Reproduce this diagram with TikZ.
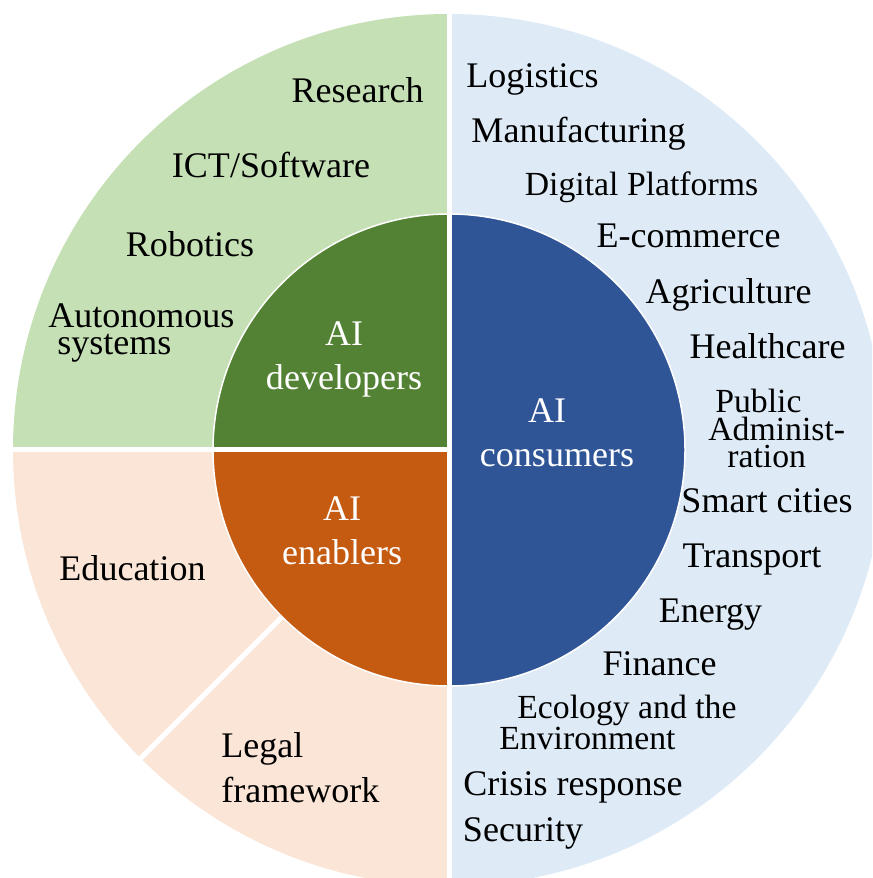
\documentclass[tikz,border=0pt]{standalone}
\usepackage{fontspec}
\setmainfont{Liberation Serif}
\definecolor{lgreen}{HTML}{C5E0B4}
\definecolor{lblue}{HTML}{DEEBF7}
\definecolor{lorange}{HTML}{FBE5D6}
\definecolor{dgreen}{HTML}{548235}
\definecolor{dorange}{HTML}{C55A11}
\definecolor{dblue}{HTML}{2F5597}
\begin{document}
\begin{tikzpicture}[x=0.02cm,y=0.02cm,
  lbl/.style={anchor=base,inner sep=0pt,font=\fontsize{20.5}{24}\selectfont},
  twoline/.style={font=\fontsize{20.5}{25.5}\selectfont},
  tightfont/.style={font=\fontsize{20.5}{15.9}\selectfont},
  smalltight/.style={font=\fontsize{19.2}{15.7}\selectfont},
  smallfont/.style={font=\fontsize{19.2}{22}\selectfont},
  wtext/.style={text=white},
  whitegap/.style={white,line width=0.1cm}]
\useasboundingbox (0,0) rectangle (872,878);
\clip (0,0) rectangle (872,878);
\coordinate (C) at (449,428);
% outer ring
\fill[lblue] (C) -- ++(-90:436) arc[start angle=-90,end angle=90,radius=436] -- cycle;
\fill[lgreen] (C) -- ++(90:436) arc[start angle=90,end angle=180,radius=436] -- cycle;
\fill[lorange] (C) -- ++(180:436) arc[start angle=180,end angle=270,radius=436] -- cycle;
\draw[whitegap] (C) -- ++(225:450);
% inner disk
\fill[dblue] (C) -- ++(-90:236) arc[start angle=-90,end angle=90,radius=236] -- cycle;
\fill[dgreen] (C) -- ++(90:236) arc[start angle=90,end angle=180,radius=236] -- cycle;
\fill[dorange] (C) -- ++(180:236) arc[start angle=180,end angle=270,radius=236] -- cycle;
\draw[white,line width=0.03cm] (C) circle[radius=236];
\draw[whitegap] (C) ++(0,450) -- ++(0,-900);
\draw[whitegap] (C) -- ++(-450,0);
% inner labels (base anchor = baseline of last line)
\node[lbl,wtext,twoline,align=center] (dev) at (344,878-390) {AI\\developers};
\node[lbl,wtext,twoline,align=center] (ena) at (342,878-565) {AI\\enablers};
\node[lbl,wtext,twoline,align=center] (con) at (557,878-467) {AI\hspace*{0.4cm}\\consumers};
% developers ring
\node[lbl] (research) at (357.5,878-103) {Research};
\node[lbl] (ict) at (271,878-178) {ICT/Software};
\node[lbl] (robotics) at (190,878-257) {Robotics};
\node[lbl,tightfont,anchor=base west,align=left] (auto) at (48,878-355) {Autonomous\\\hspace*{0.18cm}systems};
% enablers ring
\node[lbl] (education) at (132.5,878-581) {Education};
\node[lbl,anchor=base west,align=left,font=\fontsize{20.5}{26}\selectfont] (legal) at (221,878-803) {Legal\\framework};
% consumers ring
\node[lbl] (logistics) at (532.5,878-88) {Logistics};
\node[lbl] (manuf) at (578.5,878-143) {Manufacturing};
\node[lbl,smallfont] (digital) at (641.5,878-196) {Digital Platforms};
\node[lbl] (ecom) at (688.5,878-248) {E-commerce};
\node[lbl] (agri) at (728.5,878-304) {Agriculture};
\node[lbl] (health) at (767.5,878-359) {Healthcare};
\node[lbl,smalltight,anchor=base west,align=left] (pub) at (708,878-468) {\hspace*{0.14cm}Public\\Administ-\\\hspace*{0.38cm}ration};
\node[lbl] (smart) at (767,878-513) {Smart cities};
\node[lbl] (transport) at (752,878-568) {Transport};
\node[lbl] (energy) at (710.5,878-623) {Energy};
\node[lbl] (finance) at (659.5,878-676) {Finance};
\node[lbl,smalltight,anchor=base west,align=left] (eco) at (499,878-750) {\hspace*{0.36cm}Ecology and the\\Environment};
\node[lbl] (crisis) at (573,878-796) {Crisis response};
\node[lbl] (security) at (523,878-842) {Security};
\end{tikzpicture}
\end{document}
